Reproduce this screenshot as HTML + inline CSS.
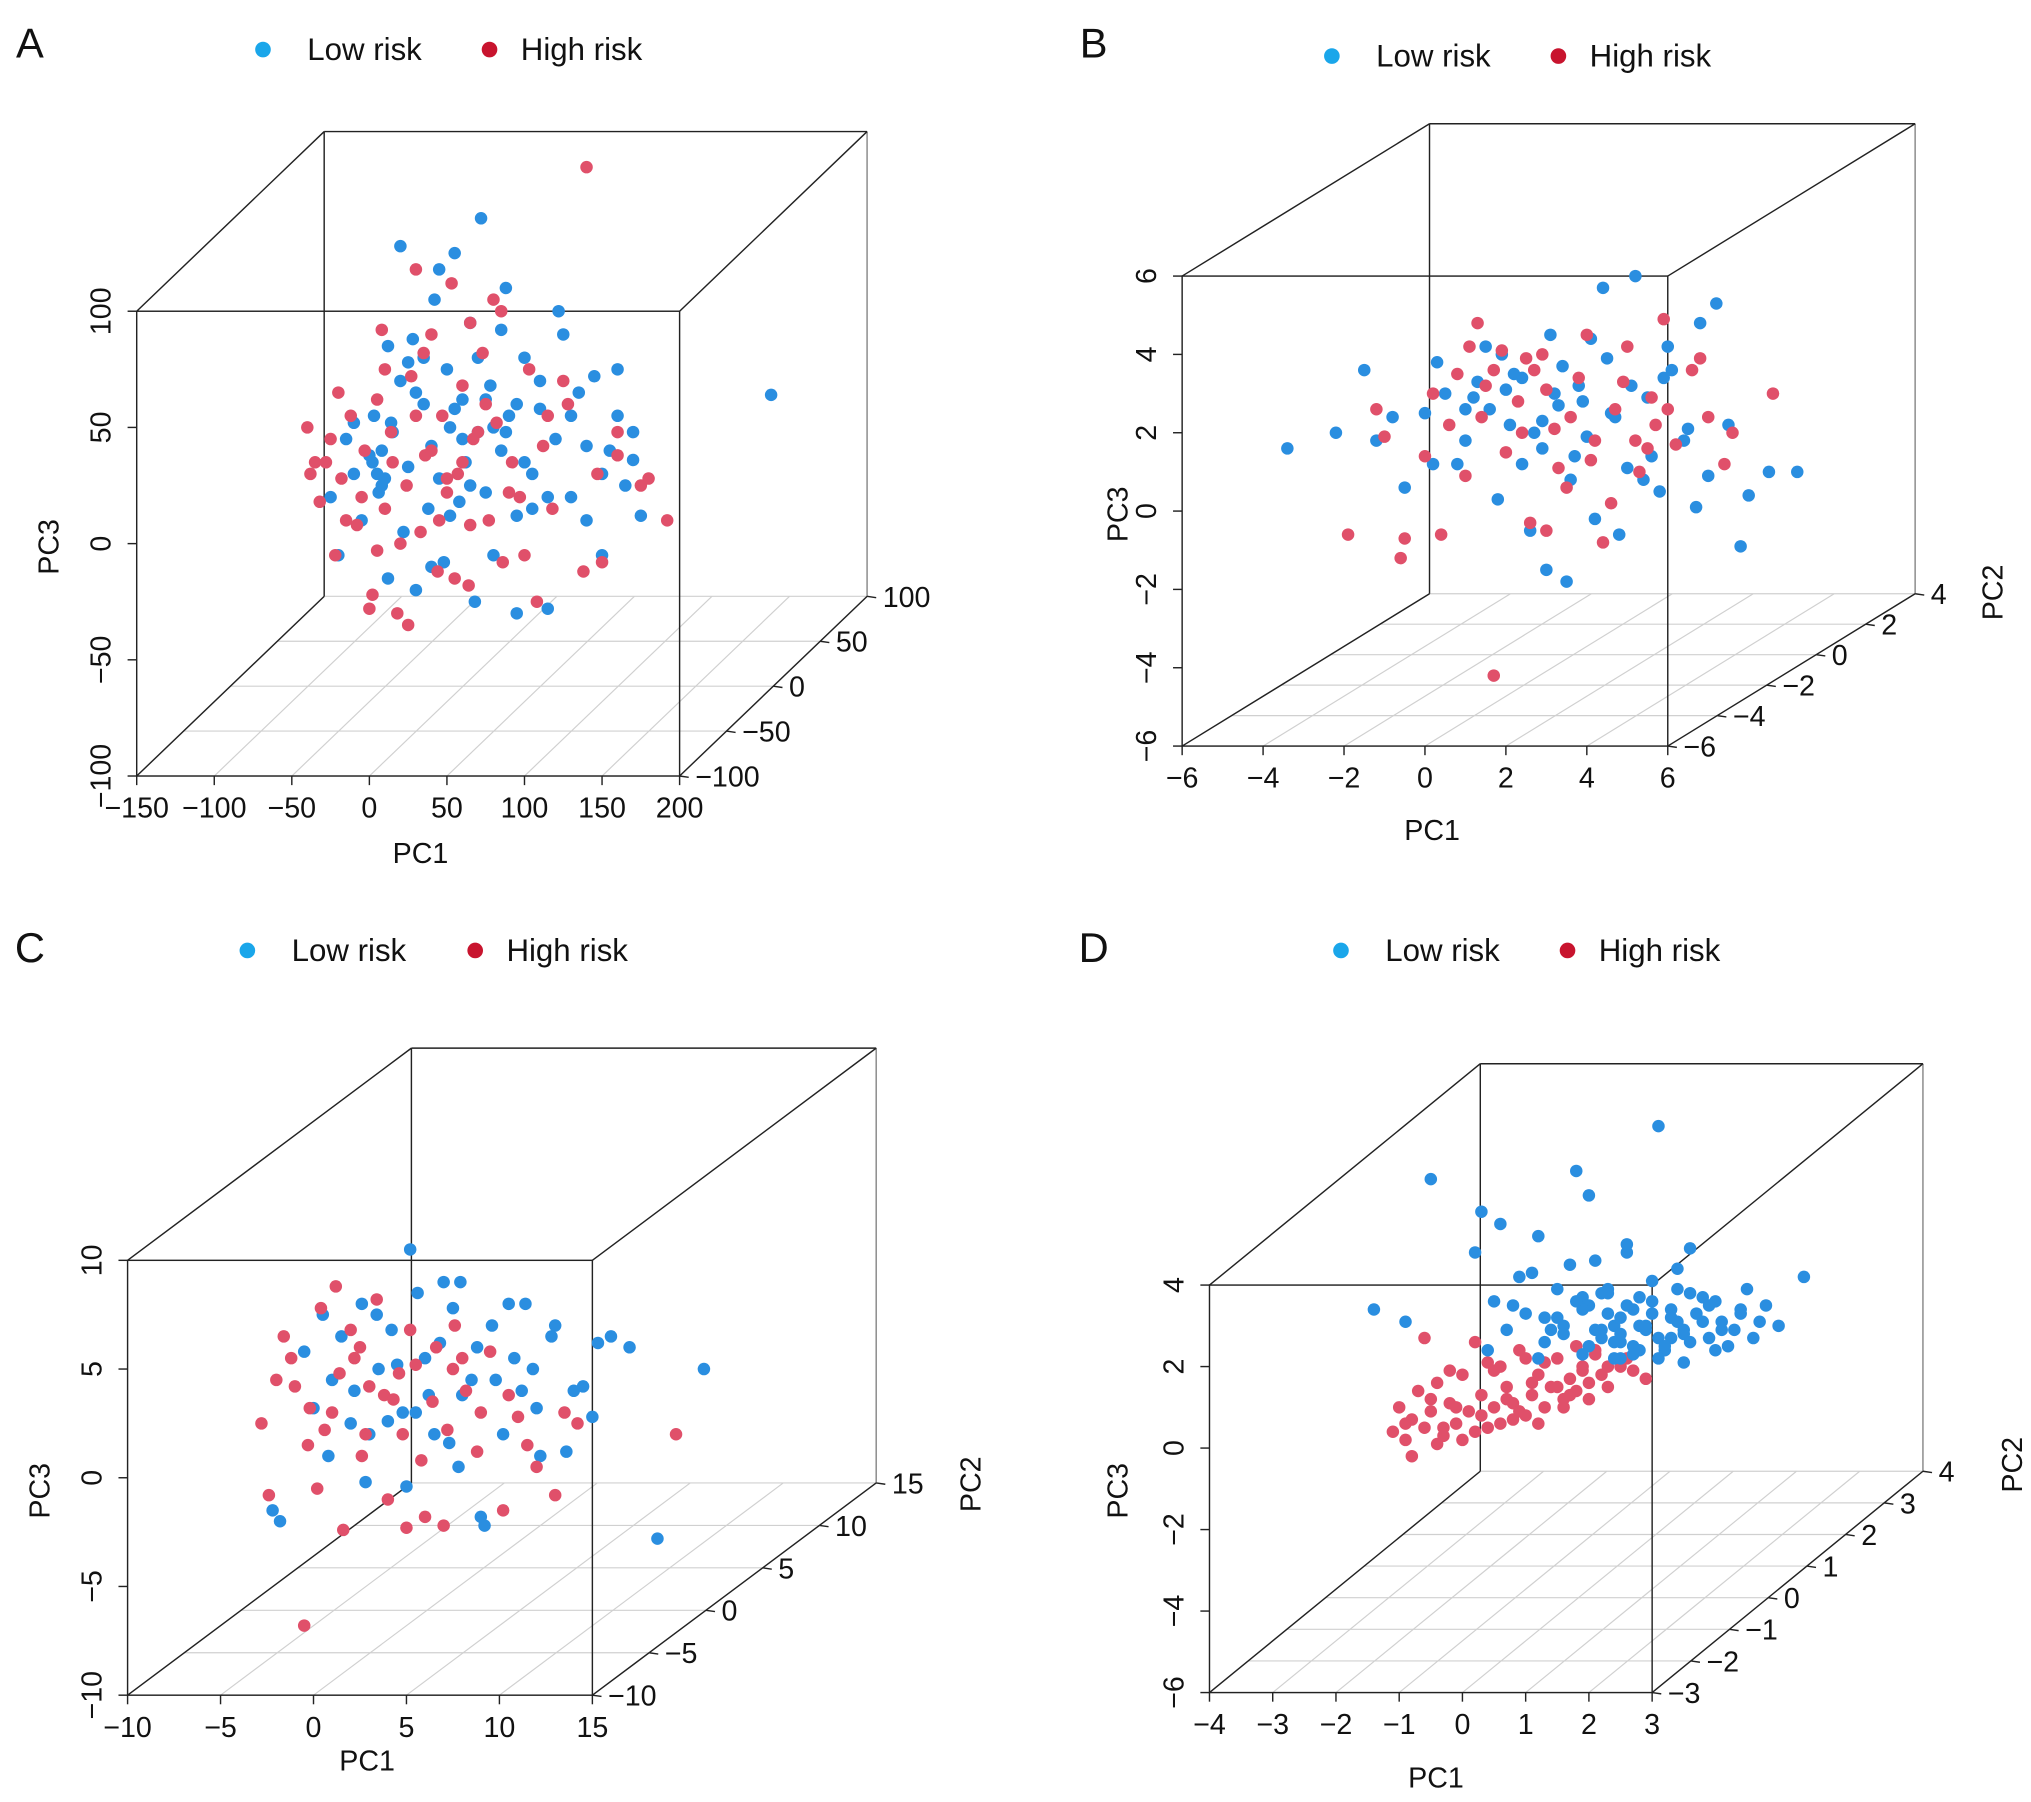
<!DOCTYPE html>
<html><head><meta charset="utf-8"><style>
html,body{margin:0;padding:0;background:#fff;}
svg{display:block;font-family:"Liberation Sans",Arial,sans-serif;}
</style></head><body>
<svg id="fig" width="2031" height="1802" viewBox="0 0 1560 1384" xmlns="http://www.w3.org/2000/svg"></svg>
<script>
// ---------- Panel A data (PC1, PC3) ----------
const aLowX=[-25,-20,-15,-10,-5,0,3,8,12,15,20,22,25,28,30,35,38,40,42,45,48,50,52,55,58,60,62,65,68,70,72,75,78,80,85,88,90,95,100,105,110,115,120,125,130,135,140,145,150,155,160,165,170,175,20,45,70,95,122,259,
 2,5,8,10,6,14,30,55,60,75,88,100,110,130,150,160,-10,35,65,80,95,115,140,170,40,52,25,12,85,105];
const aLowY=[20,-5,45,30,10,38,55,25,-15,48,70,5,33,88,-20,60,15,42,105,28,-8,75,50,125,18,62,35,95,-25,48,140,22,68,-5,40,110,55,12,80,30,58,-28,45,90,20,65,10,72,-5,40,55,25,48,12,128,118,80,-30,100,64,
 35,30,40,28,22,52,65,58,45,62,48,35,70,55,30,75,52,80,25,50,60,20,42,36,-10,12,78,85,92,15];
const aHighX=[-40,-32,-28,-22,-18,-12,-8,-3,2,5,10,14,18,24,27,33,36,40,44,47,53,57,60,64,67,73,77,82,86,92,97,103,108,112,118,128,138,147,160,175,192,8,30,50,80,140,-35,25,65,
 -38,-25,-15,-5,0,15,20,30,35,45,50,55,60,70,75,90,100,115,125,150,160,180,-20,10,40,65,85,5];
const aHighY=[50,18,35,-5,28,55,8,40,-22,62,15,48,-30,25,72,5,38,90,-12,55,112,30,68,-18,45,82,10,52,-8,35,20,75,-25,42,15,60,-12,30,48,25,10,92,118,22,105,162,35,-35,8,
 30,45,10,20,-28,35,0,55,82,10,28,-15,35,48,60,22,-5,55,70,-8,38,28,65,75,40,95,100,-3];
// ---------- Panel B data ----------
const bLowX=[-3.4,-2.2,-1.5,-1.2,-0.5,0,0.3,0.8,1.2,1.5,1.8,2.1,2.4,2.6,2.9,3.1,3.3,3.6,3.8,4.0,4.2,4.5,4.7,5.0,5.2,5.5,5.8,6.1,6.4,6.8,7.2,7.5,8.0,8.5,9.2,3.0,4.4,2.0,5.6,1.0,3.5,6.0,7.8,
 0.5,1.0,1.6,2.2,2.7,3.2,3.7,4.1,4.6,5.1,5.4,6.5,7.0,0.2,1.3,2.4,3.4,4.8,-0.8,1.9,2.9,3.9,5.9,6.7];
const bLowY=[1.6,2.0,3.6,1.8,0.6,2.5,3.8,1.2,2.9,4.2,0.3,2.2,3.4,-0.5,1.6,4.5,2.7,0.8,3.2,1.9,-0.2,3.9,2.4,1.1,6.0,2.9,0.5,3.6,1.8,4.8,5.3,2.2,0.4,1.0,1.0,-1.5,5.7,3.1,1.4,2.6,-1.8,4.2,-0.9,
 3.0,1.8,2.6,3.5,2.0,3.0,1.4,4.4,2.5,3.2,0.8,2.1,0.9,1.2,3.3,1.2,3.7,-0.6,2.4,4.0,2.3,2.8,3.4,0.1];
const bHighX=[-1.9,-1.0,-0.5,0.2,0.6,1.0,1.3,1.7,2.0,2.3,2.6,2.9,3.2,3.5,3.8,4.1,4.4,4.7,5.0,5.3,5.6,5.9,6.2,6.6,7.0,7.4,8.6,-0.6,1.5,3.0,4.6,1.7,2.5,5.2,
 -1.2,0,0.8,1.4,1.9,2.4,3.0,3.6,4.2,4.9,5.5,6.0,6.8,7.6,0.4,1.1,2.7,3.3,4.0,5.7];
const bHighY=[-0.6,1.9,-0.7,3.0,2.2,0.9,4.8,3.6,1.5,2.8,-0.3,4.0,2.1,0.6,3.4,1.3,-0.8,2.6,4.2,1.0,2.9,4.9,1.7,3.6,2.4,1.2,3.0,-1.2,3.2,-0.5,0.2,-4.2,3.9,1.8,
 2.6,1.4,3.5,2.4,4.1,2.0,3.1,2.4,1.8,3.3,1.6,2.6,3.9,2.0,-0.6,4.2,3.6,1.1,4.5,2.2];
// ---------- Panel C data ----------
const cLowX=[-2.2,-1.8,-0.5,0,0.8,1.5,2.2,2.8,3.4,4.0,4.5,5.0,5.6,6.2,6.8,7.3,7.9,8.5,9.0,9.6,10.2,10.8,11.4,12.0,12.8,13.6,14.5,15.3,16.0,21.0,18.5,5.2,3.0,7.0,9.2,11.2,
 1.0,2.0,3.5,4.2,5.5,6.0,6.5,7.5,8.0,8.8,9.8,10.5,11.8,13.0,14.0,0.5,2.6,4.8,7.8,12.2,15.0,17.0];
const cLowY=[-1.5,-2.0,5.8,3.2,1.0,6.5,4.0,-0.2,7.5,2.6,5.2,-0.4,8.5,3.8,6.2,1.6,9.0,4.5,-1.8,7.0,2.0,5.5,8.0,3.2,6.5,1.2,4.2,6.2,6.5,5.0,-2.8,10.5,2.0,9.0,-2.2,4.0,
 4.5,2.5,5.0,6.8,3.0,5.5,2.0,7.8,3.8,6.0,4.5,8.0,5.0,7.0,4.0,7.5,8.0,3.0,0.5,1.0,2.8,6.0];
const cHighX=[-2.8,-2.4,-1.6,-1.0,-0.3,0.4,1.0,1.6,2.2,2.8,3.4,4.0,4.6,5.2,5.8,6.4,7.0,7.6,8.2,8.8,9.5,10.2,11.0,12.0,13.0,14.2,19.5,-0.5,1.2,3.8,7.5,5.0,2.5,
 -2.0,-1.2,-0.2,0.6,1.4,2.0,3.0,4.3,5.5,6.6,7.2,8.0,9.0,10.5,11.5,13.5,0.2,2.6,4.8,6.0];
const cHighY=[2.5,-0.8,6.5,4.2,1.5,7.8,3.0,-2.4,5.5,2.0,8.2,-1.0,4.8,6.8,0.8,3.5,-2.2,7.0,4.0,1.2,5.8,-1.5,2.8,0.5,-0.8,2.5,2.0,-6.8,8.8,3.8,5.0,-2.3,6.0,
 4.5,5.5,3.2,2.2,4.8,6.8,4.2,3.6,5.2,6.0,2.2,5.5,3.0,3.8,1.5,3.0,-0.5,1.0,2.0,-1.8];
// ---------- Panel D data ----------
const dLowX=[-1.4,-0.9,-0.5,0.2,0.3,0.5,0.7,0.9,1.0,1.2,1.3,1.5,1.6,1.8,1.9,2.0,2.1,2.2,2.3,2.4,2.5,2.6,2.7,2.8,2.9,3.0,3.1,3.2,3.3,3.4,3.5,3.6,3.8,4.0,4.2,4.4,4.6,4.8,5.0,5.4,0.4,0.8,1.4,1.7,2.2,2.6,3.1,1.1,1.9,2.5,3.0,3.5,4.1,0.6,1.5,2.3,2.8,3.3,3.9,4.5,2.0,2.7,3.4,1.2,2.4,3.6,
 1.3,1.6,1.9,2.1,2.3,2.5,2.7,2.9,3.1,3.3,3.5,3.7,3.9,4.1,4.3,2.0,2.4,2.8,3.2,3.6,4.0,1.8,2.2,2.6,3.0,3.4,3.8,4.4,4.7,2.5];
const dLowY=[3.4,3.1,6.6,4.8,5.8,3.6,2.9,4.2,3.3,5.2,2.6,3.9,3.0,6.8,2.3,3.5,4.6,2.7,3.9,2.2,3.2,5.0,2.5,3.7,2.9,4.1,7.9,2.4,3.4,4.4,2.8,3.8,3.1,3.6,2.5,3.3,2.7,3.5,3.0,4.2,2.4,3.5,2.9,4.5,2.9,4.8,2.2,4.3,3.7,2.6,3.3,2.1,2.9,5.5,3.2,3.8,3.0,2.7,3.5,3.9,6.2,2.3,3.1,2.2,3.0,4.9,
 3.2,2.8,3.4,2.9,3.3,2.8,3.4,3.0,2.7,3.2,2.9,3.3,2.7,3.1,2.9,2.5,2.6,2.4,2.5,2.6,2.4,3.6,3.8,3.5,3.6,3.9,3.7,3.4,3.1,2.2];
const dHighX=[-1.1,-1.0,-0.9,-0.8,-0.7,-0.6,-0.5,-0.4,-0.3,-0.2,-0.1,0,0.1,0.2,0.3,0.4,0.5,0.6,0.7,0.8,0.9,1.0,1.1,1.2,1.3,1.4,1.5,1.6,1.7,1.8,1.9,2.0,2.1,2.2,2.3,2.5,2.7,2.9,-0.8,-0.4,0,0.4,0.8,1.2,1.6,2.0,-0.6,0.2,1.0,1.8,-0.2,0.6,
 -0.9,-0.5,-0.1,0.3,0.7,1.1,1.5,1.9,2.3,0.5,1.3,2.1,-0.3,0.9,1.7,2.6];
const dHighY=[0.4,1.0,0.2,0.7,1.4,0.5,0.9,1.6,0.3,1.1,0.6,1.8,0.9,0.4,1.3,2.1,1.0,0.6,1.5,1.1,2.4,0.8,1.3,1.8,1.0,1.5,2.2,1.2,1.7,1.4,2.0,1.6,2.3,1.8,1.5,2.0,1.9,1.7,-0.2,0.1,0.2,0.5,0.7,0.6,1.0,1.2,2.7,2.6,2.2,2.5,1.9,2.0,
 0.6,1.2,1.0,0.8,1.2,1.6,1.5,1.9,2.0,1.9,2.1,2.4,0.5,0.9,1.3,2.2];
// ---------- ticks ----------
const aTicks1=[-150,-100,-50,0,50,100,150,200], aTicks3=[-100,-50,0,50,100], aTicks2=[-100,-50,0,50,100];
const bTicks1=[-6,-4,-2,0,2,4,6], bTicks3=[-6,-4,-2,0,2,4,6], bTicks2=[-6,-4,-2,0,2,4];
const cTicks1=[-10,-5,0,5,10,15], cTicks3=[-10,-5,0,5,10], cTicks2=[-10,-5,0,5,10,15];
const dTicks1=[-4,-3,-2,-1,0,1,2,3], dTicks3=[-6,-4,-2,0,2,4], dTicks2=[-3,-2,-1,0,1,2,3,4];

const NS="http://www.w3.org/2000/svg";
const svg=document.getElementById('fig');
function el(tag,attrs,parent){const e=document.createElementNS(NS,tag);for(const k in attrs)e.setAttribute(k,attrs[k]);(parent||svg).appendChild(e);return e;}
function txt(s,x,y,size,parent,anchor,rot){const t=el('text',{x:x,y:y,'font-size':size,'text-anchor':anchor||'middle',fill:'#111'},parent);if(rot)t.setAttribute('transform','rotate(-90 '+x+' '+y+')');t.textContent=s;return t;}
const BLUE='#2a8ee0', RED='#e0506a';

function panel(cfg){
  const g=el('g',{});
  
  
  const L=cfg.L,R=cfg.R,T=cfg.T,B=cfg.B,dx=cfg.dx,dy=cfg.dy;
  const sx=v=>L+(v-cfg.x0)/(cfg.x1-cfg.x0)*(R-L);
  const sy=v=>B-(v-cfg.y0)/(cfg.y1-cfg.y0)*(B-T);
  const fz=v=>(v-cfg.z0)/(cfg.z1-cfg.z0);
  const grid=el('g',{stroke:'#d0d0d0','stroke-width':0.9},g);
  
  
  cfg.t1.forEach(v=>{el('line',{x1:sx(v),y1:B,x2:sx(v)+dx,y2:B+dy},grid);});
  cfg.t2.forEach(v=>{const f=fz(v);el('line',{x1:L+f*dx,y1:B+f*dy,x2:R+f*dx,y2:B+f*dy},grid);});
  const box=el('g',{stroke:'#222','stroke-width':1.1,fill:'none'},g);
  
  
  el('rect',{x:L,y:T,width:R-L,height:B-T},box);
  el('line',{x1:L+dx,y1:T+dy,x2:R+dx,y2:T+dy},box);
  el('line',{x1:L+dx,y1:T+dy,x2:L+dx,y2:B+dy},box);
  el('line',{x1:R+dx,y1:T+dy,x2:R+dx,y2:B+dy,stroke:'#888'},box);
  el('line',{x1:L,y1:T,x2:L+dx,y2:T+dy},box);
  el('line',{x1:R,y1:T,x2:R+dx,y2:T+dy},box);
  el('line',{x1:L,y1:B,x2:L+dx,y2:B+dy},box);
  el('line',{x1:R,y1:B,x2:R+dx,y2:B+dy},box);
  const ax=el('g',{stroke:'#222','stroke-width':1.1},g);
  
  
  const lab=el('g',{},g);
  
  
  cfg.t1.forEach(v=>{el('line',{x1:sx(v),y1:B,x2:sx(v),y2:B+7},ax);txt(String(v).replace('-','\u2212'),sx(v),B+32,22,lab);});
  cfg.t3.forEach(v=>{el('line',{x1:L,y1:sy(v),x2:L-7,y2:sy(v)},ax);txt(String(v).replace('-','\u2212'),L-20,sy(v),22,lab,'middle',true);});
  cfg.t2.forEach(v=>{const f=fz(v);const px=R+f*dx,py=B+f*dy;el('line',{x1:px,y1:py,x2:px+7,y2:py+1},ax);txt(String(v).replace('-','\u2212'),px+12,py+8,22,lab,'start');});
  const t1=txt('PC1',cfg.p1[0],cfg.p1[1],22,g);
  const t3=txt('PC3',cfg.p3[0],cfg.p3[1],22,g,'middle',true);
  if(cfg.p2){const t2=txt('PC2',cfg.p2[0],cfg.p2[1],22,g,'middle',true);}
  const pl=txt(cfg.id,cfg.letter[0],cfg.letter[1],32,g,'middle');
  const lg=el('g',{},g);
  
  
  const le1=el('g',{},lg);
  
  
  el('circle',{cx:cfg.leg[0],cy:cfg.leg[1],r:6,fill:'#1aa6ea'},le1);
  txt('Low risk',cfg.leg[0]+34,cfg.leg[1]+8,24,le1,'start');
  const le2=el('g',{},lg);
  
  
  el('circle',{cx:cfg.leg[2],cy:cfg.leg[1],r:6,fill:'#c8142e'},le2);
  txt('High risk',cfg.leg[2]+24,cfg.leg[1]+8,24,le2,'start');
  cfg.series.forEach(s=>{
    const sg=el('g',{fill:s.c},g);
    
    
    const n=Math.min(s.x.length,s.y.length);
    for(let i=0;i<n;i++){
      const c=el('circle',{cx:sx(s.x[i]),cy:sy(s.y[i]),r:4.8},sg);
      
      
    }
  });
}

panel({id:'A',L:105,R:522,T:239,B:596,dx:144,dy:-138,x0:-150,x1:200,y0:-100,y1:100,z0:-100,z1:100,
  t1:aTicks1,t3:aTicks3,t2:aTicks2,p1:[323,663],p3:[45,420],p2:null,letter:[23,44],leg:[202,38,376],
  series:[{name:'low-risk-points',c:BLUE,x:aLowX,y:aLowY},{name:'high-risk-points',c:RED,x:aHighX,y:aHighY}]});
panel({id:'B',L:908,R:1281,T:212,B:573,dx:190,dy:-117,x0:-6,x1:6,y0:-6,y1:6,z0:-6,z1:4,
  t1:bTicks1,t3:bTicks3,t2:bTicks2,p1:[1100,645],p3:[866,395],p2:[1538,455],letter:[840,44],leg:[1023,43,1197],
  series:[{name:'low-risk-points',c:BLUE,x:bLowX,y:bLowY},{name:'high-risk-points',c:RED,x:bHighX,y:bHighY}]});
panel({id:'C',L:98,R:455,T:968,B:1302,dx:218,dy:-163,x0:-10,x1:15,y0:-10,y1:10,z0:-10,z1:15,
  t1:cTicks1,t3:cTicks3,t2:cTicks2,p1:[282,1360],p3:[38,1145],p2:[753,1140],letter:[23,739],leg:[190,730,365],
  series:[{name:'low-risk-points',c:BLUE,x:cLowX,y:cLowY},{name:'high-risk-points',c:RED,x:cHighX,y:cHighY}]});
panel({id:'D',L:929,R:1269,T:987,B:1300,dx:208,dy:-170,x0:-4,x1:3,y0:-6,y1:4,z0:-3,z1:4,
  t1:dTicks1,t3:dTicks3,t2:dTicks2,p1:[1103,1373],p3:[866,1145],p2:[1553,1125],letter:[840,739],leg:[1030,730,1204],
  series:[{name:'high-risk-points',c:RED,x:dHighX,y:dHighY},{name:'low-risk-points',c:BLUE,x:dLowX,y:dLowY}]});
</script>
</body></html>
